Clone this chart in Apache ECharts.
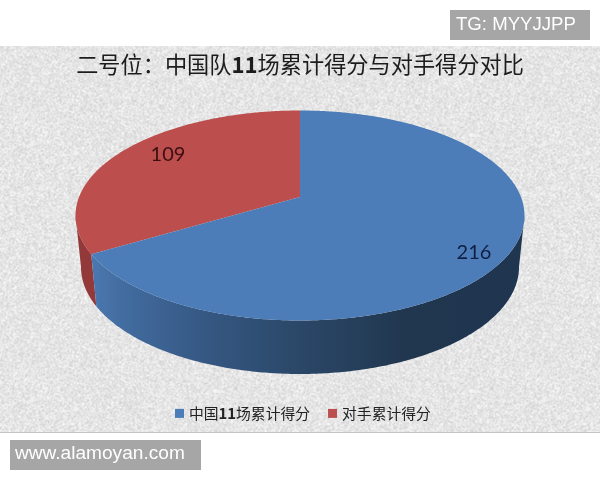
<!DOCTYPE html>
<html><head><meta charset="utf-8">
<style>html,body{margin:0;padding:0;background:#fff}#c{width:600px;height:480px}</style>
<script src="https://cdn.jsdelivr.net/npm/echarts@6/dist/echarts.min.js"></script>
</head><body><div id="c"></div>
<script>
var titleParts = ['二号位\uFF1A中国队', '11', '场累计得分与对手得分对比'];
var seriesNames = ['中国11场累计得分', '对手累计得分'];
var seriesValues = [216, 109];
var seriesColors = ['#4d7db8', '#bc4f4d'];

var chart = echarts.init(document.getElementById('c'), null, {renderer: 'canvas'});

// paper texture
function paper() {
  var W = 256, cv = document.createElement('canvas');
  cv.width = cv.height = W;
  var g = cv.getContext('2d'), im = g.createImageData(W, W), s = 12345;
  function r() { s = (s * 1664525 + 1013904223) >>> 0; return s / 4294967296; }
  var n = new Float32Array(W * W), i, x, y;
  for (i = 0; i < W * W; i++) n[i] = r();
  for (y = 0; y < W; y++) for (x = 0; x < W; x++) {
    var a = n[y * W + x], b = n[y * W + (x + 1) % W], c = n[((y + 1) % W) * W + x], d = n[((y + 1) % W) * W + (x + 1) % W];
    var v = 229 + ((a + b + c + d) / 4 - 0.5) * 44;
    i = (y * W + x) * 4;
    im.data[i] = im.data[i + 1] = im.data[i + 2] = v; im.data[i + 3] = 255;
  }
  g.putImageData(im, 0, 0);
  return cv;
}

var TOP = {cx: 300, cy: 215.5, rx: 224.5, ry: 105};
var BOTTOM = {cx: 300, cy: 267, rx: 219, ry: 107};
var APEX_Y = 197;
var BETA = (TOP.cy - APEX_Y) / TOP.ry;
var TOTAL = seriesValues.reduce(function (a, b) { return a + b; }, 0);

// angle t runs from 12 o'clock; perspective maps circle points on the tilted ellipse
function project(t, e) {
  var u = Math.sin(t), v = Math.cos(t), k = 1 + BETA * v;
  var xx = u * Math.sqrt(1 - BETA * BETA) / k, yy = (v + BETA) / k;
  return [e.cx + e.rx * xx, e.cy - e.ry * yy];
}
function arcPoints(a0, a1, e) {
  var pts = [], n = Math.max(2, Math.ceil(Math.abs(a1 - a0) / 0.01));
  for (var i = 0; i <= n; i++) pts.push(project(a0 + (a1 - a0) * i / n, e));
  return pts;
}
// slice angles from the data: blue clockwise from top, red after it
var redAngle = 2 * Math.PI * seriesValues[1] / TOTAL;
var ranges = [[0, 2 * Math.PI - redAngle], [2 * Math.PI - redAngle, 2 * Math.PI]];
var apex = [TOP.cx, APEX_Y];
var RIM = Math.acos(-BETA); // angle where the top ellipse is widest

function sideFill(idx) {
  if (idx === 1) return '#93393a';
  return new echarts.graphic.LinearGradient(0, 0, 1, 0, [
    {offset: 0, color: '#4a78b0'}, {offset: 0.1, color: '#40699b'},
    {offset: 0.28, color: '#345680'}, {offset: 0.5, color: '#2a4666'},
    {offset: 0.72, color: '#21374f'}, {offset: 1, color: '#1f3550'}
  ]);
}
function makeRender(idx) {
  return function () {
    var r = ranges[idx], kids = [];
    var a0 = Math.max(r[0], RIM), a1 = Math.min(r[1], 2 * Math.PI - RIM);
    if (a1 > a0) {
      kids.push({type: 'polygon', shape: {points: arcPoints(a0, a1, TOP).concat(arcPoints(a1, a0, BOTTOM))},
                 style: {fill: sideFill(idx)}, z2: 1});
    }
    kids.push({type: 'polygon', shape: {points: [apex].concat(arcPoints(r[0], r[1], TOP))},
               style: {fill: seriesColors[idx]}, z2: 2});
    return {type: 'group', children: kids};
  };
}

chart.setOption({
  animation: false,
  backgroundColor: '#fff',
  textStyle: {fontFamily: '"Noto Sans CJK SC"'},
  title: {
    text: '{a|' + titleParts[0] + '}{b|' + titleParts[1] + '}{a|' + titleParts[2] + '}',
    left: 'center', top: 48,
    textStyle: {
      fontSize: 22.2, fontWeight: 'normal', color: '#1c1c1c',
      rich: {
        a: {fontSize: 22.2, fontWeight: 'normal', color: '#1c1c1c', fontFamily: '"Noto Sans CJK SC"'},
        b: {fontSize: 22.2, fontWeight: 'bold', color: '#1c1c1c', fontFamily: '"Noto Sans CJK SC"'}
      }
    }
  },
  legend: {
    data: seriesNames, left: 170, top: 401, icon: 'rect', itemWidth: 9, itemHeight: 9, itemGap: 18,
    formatter: function (n) {
      return n.indexOf('11') >= 0 ? n.replace('11', '}{b|11}{a|').replace(/^/, '{a|') + '}' : '{a|' + n + '}';
    },
    textStyle: {
      fontSize: 14.8, color: '#222',
      rich: {
        a: {fontSize: 14.8, color: '#222', fontFamily: '"Noto Sans CJK SC"'},
        b: {fontSize: 14.8, fontWeight: 'bold', color: '#222', fontFamily: '"Noto Sans CJK SC"'}
      }
    }
  },
  graphic: [
    {type: 'rect', z: -10, shape: {x: 0, y: 46, width: 600, height: 386}, style: {fill: {image: paper(), repeat: 'repeat'}}},
    {type: 'rect', z: -9, shape: {x: 0, y: 432, width: 600, height: 1}, style: {fill: '#c4c4c4'}},
    {type: 'rect', z: 10, shape: {x: 450, y: 10, width: 140, height: 30}, style: {fill: '#a6a6a6'}},
    {type: 'text', z: 11, x: 456, y: 25, style: {text: 'TG: MYYJJPP', fill: '#fff', font: '18.6px "Liberation Sans"', textVerticalAlign: 'middle'}},
    {type: 'rect', z: 10, shape: {x: 10, y: 440, width: 191, height: 30}, style: {fill: '#a6a6a6'}},
    {type: 'text', z: 11, x: 15, y: 454, style: {text: 'www.alamoyan.com', fill: '#fff', font: '19.1px "Liberation Sans"', textVerticalAlign: 'middle'}},
    {type: 'text', z: 20, x: 474, y: 253, style: {text: String(seriesValues[0]), fill: '#0f1f45', font: '20px Lato', textAlign: 'center', textVerticalAlign: 'middle'}},
    {type: 'text', z: 20, x: 168, y: 155, style: {text: String(seriesValues[1]), fill: '#3d0f10', font: '20px Lato', textAlign: 'center', textVerticalAlign: 'middle'}}
  ],
  series: seriesNames.map(function (name, i) {
    return {type: 'custom', name: name, coordinateSystem: 'none', itemStyle: {color: seriesColors[i]},
            data: [seriesValues[i]], renderItem: makeRender(i), silent: true, z: i === 0 ? 3 : 2};
  })
});
</script></body></html>
